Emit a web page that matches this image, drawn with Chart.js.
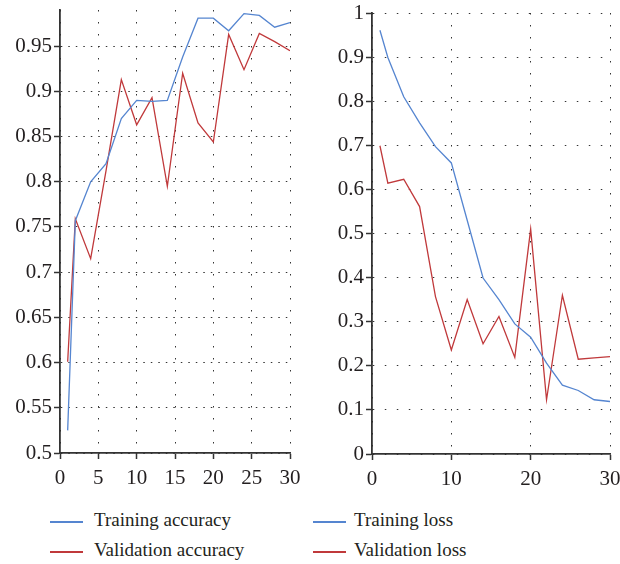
<!DOCTYPE html>
<html>
<head>
<meta charset="utf-8">
<script src="https://cdn.jsdelivr.net/npm/chart.js@4"></script>
<style>
  body { margin: 0; background: #fff; width: 620px; height: 564px; position: relative; overflow: hidden; }
  .wrap { position: absolute; top: 0; width: 310px; height: 490px; }
  .key { position: absolute; height: 1.5px; width: 33px; }
  .lbl { position: absolute; font-family: "Liberation Serif", serif; font-size: 19px; line-height: 20px; color: #231f20; white-space: nowrap; }
</style>
</head>
<body>
<div class="wrap" style="left:0"><canvas id="accChart"></canvas></div>
<div class="wrap" style="left:310px"><canvas id="lossChart"></canvas></div>

<div class="key" style="left:50px; top:521px; background:#5585d0"></div>
<div class="lbl" style="left:94px; top:510px">Training accuracy</div>
<div class="key" style="left:50px; top:551px; background:#c0393b"></div>
<div class="lbl" style="left:94px; top:540px">Validation accuracy</div>
<div class="key" style="left:313px; top:521px; background:#5585d0"></div>
<div class="lbl" style="left:354px; top:510px">Training loss</div>
<div class="key" style="left:313px; top:551px; background:#c0393b"></div>
<div class="lbl" style="left:354px; top:540px">Validation loss</div>

<script>
var epochs = [1, 2, 4, 6, 8, 10, 12, 14, 16, 18, 20, 22, 24, 26, 28, 30];
var trainAcc = [0.525, 0.757, 0.800, 0.820, 0.870, 0.890, 0.889, 0.890, 0.938, 0.981, 0.981, 0.967, 0.986, 0.984, 0.971, 0.976];
var valAcc = [0.601, 0.759, 0.715, 0.812, 0.913, 0.863, 0.893, 0.795, 0.920, 0.865, 0.844, 0.963, 0.924, 0.964, 0.955, 0.945];
var trainLoss = [0.961, 0.899, 0.810, 0.751, 0.697, 0.660, 0.530, 0.399, 0.350, 0.295, 0.265, 0.206, 0.156, 0.144, 0.123, 0.119];
var valLoss = [0.699, 0.614, 0.623, 0.561, 0.357, 0.236, 0.350, 0.250, 0.312, 0.219, 0.510, 0.123, 0.360, 0.215, 0.218, 0.221];

var accXTicks = [0, 5, 10, 15, 20, 25, 30];
var lossXTicks = [0, 10, 20, 30];

var blue = '#5585d0';
var red = '#c0393b';
var tickFont = { family: 'Liberation Serif', size: 21 };

function points(ys) {
    return epochs.map(function (e, i) { return { x: e, y: ys[i] }; });
}

function fmt(v) {
    return String(+(+v).toFixed(2));
}

function makeChart(id, series, yMin, yMax, yStep, xTicks, yWidth, xHeight, pad, xDash, yDash) {
    var ctx = document.getElementById(id).getContext('2d');
    return new Chart(ctx, {
        type: 'line',
        data: {
            datasets: series.map(function (s) {
                return {
                    data: points(s.values),
                    borderColor: s.color,
                    borderWidth: 1.3,
                    pointRadius: 0,
                    tension: 0,
                    fill: false
                };
            })
        },
        options: {
            responsive: false,
            animation: false,
            devicePixelRatio: 1,
            layout: { padding: pad },
            plugins: { legend: { display: false }, tooltip: { enabled: false } },
            scales: {
                x: {
                    type: 'linear',
                    min: 0,
                    max: 30,
                    afterBuildTicks: function (scale) {
                        scale.ticks = xTicks.map(function (v) { return { value: v }; });
                    },
                    afterFit: function (scale) {
                        scale.height = xHeight;
                        scale.paddingLeft = 0;
                        scale.paddingRight = 0;
                    },
                    grid: { color: '#333', lineWidth: 1, tickLength: 6, tickColor: '#333', tickWidth: 1.5 },
                    border: { color: '#333', width: 1.8, dash: xDash },
                    ticks: { font: tickFont, color: '#231f20', padding: 7, maxRotation: 0, callback: fmt }
                },
                y: {
                    min: yMin,
                    max: yMax,
                    afterFit: function (scale) {
                        scale.width = yWidth;
                        scale.paddingTop = 0;
                        scale.paddingBottom = 0;
                    },
                    grid: { color: '#333', lineWidth: 1, tickLength: 6, tickColor: '#333', tickWidth: 1.5 },
                    border: { color: '#333', width: 1.8, dash: yDash },
                    ticks: { font: tickFont, color: '#231f20', padding: 2, stepSize: yStep, includeBounds: false, callback: fmt }
                }
            }
        }
    });
}

document.getElementById('accChart').width = 310;
document.getElementById('accChart').height = 490;
document.getElementById('lossChart').width = 310;
document.getElementById('lossChart').height = 490;

makeChart('accChart',
    [{ values: trainAcc, color: blue }, { values: valAcc, color: red }],
    0.5, 0.99, 0.05, accXTicks, 60, 37,
    { top: 10, right: 20, left: 0, bottom: 0 },
    [1.5, 10.5], [1.5, 6]);

makeChart('lossChart',
    [{ values: trainLoss, color: blue }, { values: valLoss, color: red }],
    0, 1, 0.1, lossXTicks, 62, 36,
    { top: 13, right: 10, left: 0, bottom: 0 },
    [1.5, 10.5], [1.5, 10.5]);
</script>
</body>
</html>
